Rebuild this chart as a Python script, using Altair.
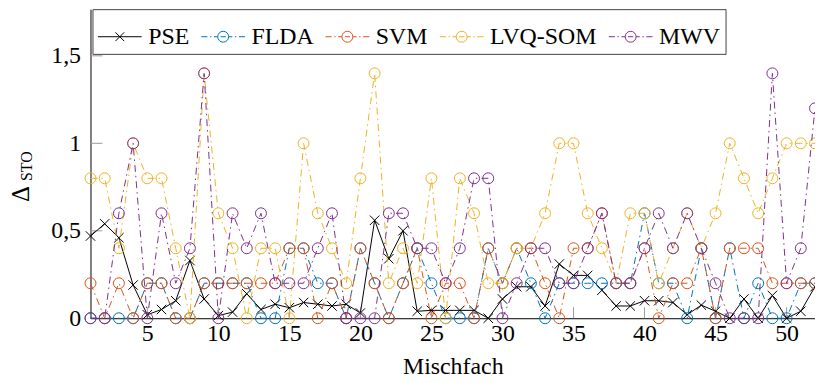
import altair as alt
import pandas as pd

mischfach = list(range(1, 53))
pse = [0.47, 0.54, 0.46, 0.19, 0.02, 0.05, 0.10, 0.33, 0.11, 0.015, 0.035, 0.14, 0.05,
       0.08, 0.06, 0.09, 0.08, 0.07, 0.08, 0.03, 0.56, 0.34, 0.50, 0.04, 0.045, 0.045,
       0.045, 0.045, 0.0, 0.11, 0.18, 0.18, 0.07, 0.31, 0.245, 0.245, 0.16, 0.07, 0.07,
       0.10, 0.10, 0.09, 0.02, 0.075, 0.04, 0.0, 0.11, 0.0, 0.13, 0.0, 0.04, 0.18]
flda = [0, 0, 0, 0, 0.2, 0.2, 0, 0, 0.2, 0.2, 0.2, 0.2, 0, 0, 0.4, 0.4, 0.2, 0.2, 0,
        0.4, 0.2, 0, 0.2, 0.4, 0.2, 0, 0, 0, 0.4, 0.2, 0.4, 0.2, 0, 0.2, 0.2, 0.2, 0.2,
        0.2, 0.2, 0.6, 0.2, 0.2, 0, 0.4, 0, 0.4, 0, 0.2, 0, 0, 0.2, 0.2]
svm = [0.2, 0, 0.2, 0, 0.2, 0.2, 0, 0, 0.2, 0.2, 0.2, 0.2, 0.2, 0.2, 0.4, 0.4, 0, 0.2,
       0, 0.4, 0.2, 0, 0.2, 0.4, 0, 0.2, 0.2, 0, 0.4, 0.2, 0.4, 0.4, 0.2, 0, 0.4, 0.4,
       0.6, 0.2, 0.2, 0.4, 0, 0.2, 0.2, 0.4, 0, 0.4, 0.4, 0.4, 0.2, 0.2, 0.2, 0.2]
lvq = [0.8, 0.8, 0.4, 1.0, 0.8, 0.8, 0.4, 0, 1.4, 0.6, 0.4, 0, 0.4, 0.4, 0, 1.0, 0.6,
       0.4, 0.2, 0.8, 1.4, 0.2, 0.4, 0.2, 0.8, 0, 0.8, 0.6, 0.2, 0.2, 0.4, 0.4, 0.6, 1.0,
       1.0, 0.6, 0.4, 0.2, 0.6, 0.6, 0.2, 0.4, 0.6, 0.4, 0.6, 1.0, 0.8, 0.6, 0.8, 1.0,
       1.0, 1.0]
mwv = [0, 0, 0.6, 1.0, 0, 0.6, 0.2, 0.4, 1.4, 0, 0.6, 0.4, 0.6, 0.2, 0.2, 0.2, 0.4,
       0.6, 0, 0, 0, 0.6, 0.6, 0.4, 0.4, 0.2, 0.4, 0.8, 0.8, 0, 0.2, 0.4, 0.4, 0.2, 0.2,
       0.4, 0.6, 0.2, 0.2, 0.4, 0.6, 0.4, 0.6, 0.4, 0.2, 0, 0, 0, 1.4, 0.2, 0.4, 1.2]

series_names = ["PSE", "FLDA", "SVM", "LVQ-SOM", "MWV"]
series_values = [pse, flda, svm, lvq, mwv]
colors = ["#000000", "#0072BD", "#D95319", "#EDB120", "#7E2F8E"]
x_ticks = [5, 10, 15, 20, 25, 30, 35, 40, 45, 50]
y_ticks = [0.5, 1, 1.5]
y_labels = [0, 0.5, 1, 1.5]

FONT = "Liberation Serif"
W, H = 729, 311
YMAX = 1.767

rows = []
for name, vals in zip(series_names, series_values):
    for xv, yv in zip(mischfach, vals):
        rows.append({"series": name, "x": xv, "y": yv})
df = pd.DataFrame(rows)

xscale = alt.Scale(domain=[1, 52], nice=False, zero=False)
yscale = alt.Scale(domain=[0, YMAX], nice=False)
xaxis = alt.Axis(values=x_ticks, title="Mischfach", ticks=False, tickSize=0, grid=False,
                 labelFont=FONT, labelFontSize=24, labelColor="black", labelPadding=3,
                 titleFont=FONT, titleFontSize=24, titleFontWeight="normal",
                 titleColor="black", titlePadding=10, domainColor="black", domainWidth=1,
                 labelFlush=False)
yaxis = alt.Axis(values=y_labels, title=None, ticks=False, tickSize=0, grid=False,
                 labelFont=FONT, labelFontSize=24, labelColor="black", labelPadding=10,
                 labelExpr="replace(toString(datum.value), '.', ',')",
                 domainColor="black", domainWidth=1)
X = alt.X("x:Q", scale=xscale, axis=xaxis)
Y = alt.Y("y:Q", scale=yscale, axis=yaxis)

DASH = [7, 4, 1.5, 4]
CROSS = "M-1,-1L1,1M-1,1L1,-1"

layers = []
# inward tick marks
ytick_df = pd.DataFrame({"v": y_ticks})
xtick_df = pd.DataFrame({"v": x_ticks})
layers.append(alt.Chart(ytick_df).mark_rule(color="#9a9a9a", strokeWidth=1).encode(
    y=alt.Y("v:Q", scale=yscale, axis=yaxis), x=alt.value(0), x2=alt.value(12)))
layers.append(alt.Chart(xtick_df).mark_rule(color="#9a9a9a", strokeWidth=1).encode(
    x=alt.X("v:Q", scale=xscale, axis=xaxis), y=alt.value(H), y2=alt.value(H - 11)))

for name, color in zip(series_names, colors):
    sub = df[df["series"] == name]
    if name == "PSE":
        line = alt.Chart(sub).mark_line(color=color, strokeWidth=1)
        pts = alt.Chart(sub).mark_point(shape=CROSS, filled=False, color=color,
                                        size=90, strokeWidth=1, opacity=1)
    else:
        line = alt.Chart(sub).mark_line(color=color, strokeWidth=1, strokeDash=DASH)
        pts = alt.Chart(sub).mark_point(shape="circle", filled=False, color=color,
                                        size=121, strokeWidth=1, opacity=1)
    layers.append(line.encode(x=X, y=Y))
    layers.append(pts.encode(x=X, y=Y))

# legend-only layer (no drawable rows)
leg_pse = "M-1,0L1,0M-0.2,-0.2L0.2,0.2M-0.2,0.2L0.2,-0.2"
leg_circ = ("M-1,0L-0.72,0M-0.6,0L-0.54,0M-0.42,0L-0.25,0"
            "M0.25,0A0.25,0.25,0,1,1,-0.25,0A0.25,0.25,0,1,1,0.25,0"
            "M-0.12,0L0.12,0"
            "M0.25,0L0.42,0M0.54,0L0.6,0M0.72,0L1,0")
legend_paths = [leg_pse, leg_circ, leg_circ, leg_circ, leg_circ]
legend_df = pd.DataFrame({"series": series_names, "x": [None] * 5, "y": [None] * 5})
legend = alt.Legend(title=None, orient="none", legendX=2, legendY=0,
                    direction="horizontal", columns=5, symbolSize=1936,
                    symbolStrokeWidth=1, symbolFillColor="transparent",
                    labelFont=FONT, labelFontSize=24, labelFontWeight="normal",
                    labelColor="black", labelOffset=6, columnPadding=9, padding=5,
                    strokeColor="#444444", fillColor="white", labelLimit=300)
layers.append(alt.Chart(legend_df).mark_point(filled=False, strokeWidth=1, opacity=1).encode(
    x=X, y=Y,
    color=alt.Color("series:N", scale=alt.Scale(domain=series_names, range=colors),
                    legend=legend),
    shape=alt.Shape("series:N", scale=alt.Scale(domain=series_names, range=legend_paths),
                    legend=legend),
))

# y-axis title: Delta with small-caps subscript
layers.append(alt.Chart(pd.DataFrame({"t": ["Δ"]})).mark_text(
    angle=270, font=FONT, fontSize=25, color="black", align="center", baseline="middle"
).encode(text="t:N", x=alt.value(-70), y=alt.value(186)))
layers.append(alt.Chart(pd.DataFrame({"t": ["STO"]})).mark_text(
    angle=270, font=FONT, fontSize=16, color="black", align="center", baseline="middle"
).encode(text="t:N", x=alt.value(-64), y=alt.value(158)))

chart = alt.layer(*layers).properties(
    width=W, height=H,
    padding={"left": 83, "top": 0, "right": 0, "bottom": 62},
    autosize=alt.AutoSizeParams(type="none"),
).configure_view(stroke=None).configure_legend(
    labelFont=FONT, labelFontSize=24, labelFontWeight="normal", labelColor="black"
)

chart.save("out.html", embed_options={"renderer": "svg", "actions": False})
